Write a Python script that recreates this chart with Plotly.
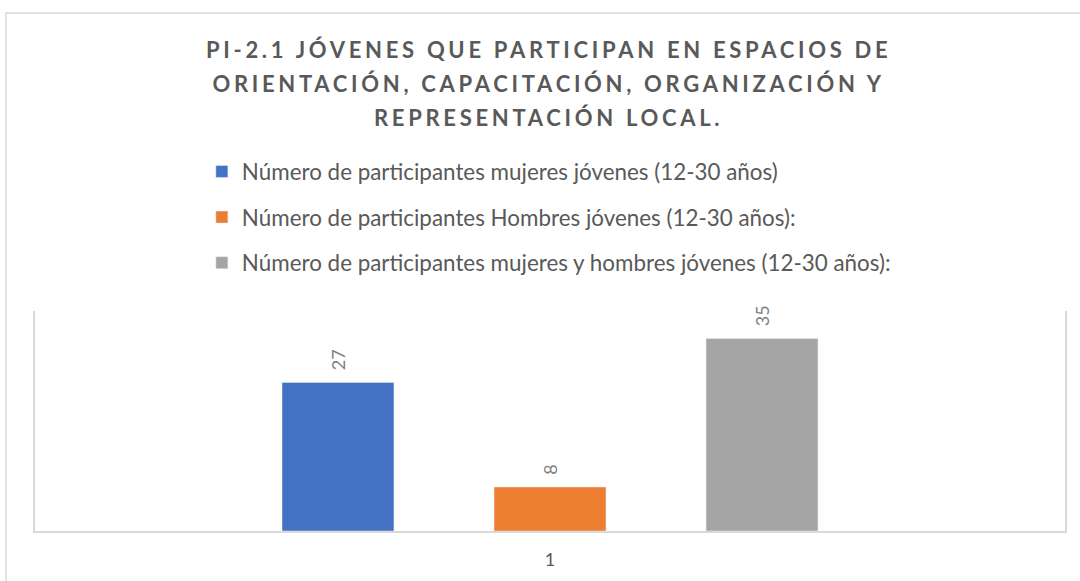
import plotly.graph_objects as go

categories = ["1"]
series_names = [
    "Número de participantes mujeres jóvenes (12-30 años)",
    "Número de participantes Hombres jóvenes (12-30 años):",
    "Número de participantes mujeres y hombres jóvenes (12-30 años):",
]
series_values = [[27], [8], [35]]
series_colors = ["#4472C4", "#ED7D31", "#A5A5A5"]
title_lines = [
    "PI-2.1 JÓVENES QUE PARTICIPAN EN ESPACIOS DE",
    "ORIENTACIÓN, CAPACITACIÓN, ORGANIZACIÓN Y",
    "REPRESENTACIÓN LOCAL.",
]

fig = go.Figure()
for i, (name, vals, col) in enumerate(zip(series_names, series_values, series_colors)):
    fig.add_trace(go.Bar(
        x=categories, y=vals, name=name, marker_color=col,
        text=[str(v) for v in vals], textposition="outside", textangle=-90,
        texttemplate="\u00a0\u00a0%{text}",
        textfont=dict(family="Lato", size=18, color="#7F7F7F"),
        constraintext="none",
        cliponaxis=False, legendgroup=f"g{i}",
    ))

title_text = "<br>".join(
    f'<span style="font-size:22px;letter-spacing:3.7px">{t}</span>' for t in title_lines
)

fig.update_layout(
    width=1080, height=581,
    paper_bgcolor="white", plot_bgcolor="white",
    margin=dict(l=35, r=15, t=311, b=50),
    barmode="group", bargap=0.3825, bargroupgap=0.472,
    title=dict(text=title_text, x=0.508, xanchor="center", y=0.90, yanchor="middle",
               font=dict(family="Lato", size=26, color="#595959", weight="bold")),
    legend=dict(orientation="v", x=0.162, xanchor="left", y=1.73, yanchor="top",
                font=dict(family="Lato", size=22.4, color="#595959"),
                tracegroupgap=13.5, itemwidth=30, bgcolor="rgba(0,0,0,0)"),
    showlegend=True,
    xaxis=dict(showline=True, linecolor="#D9D9D9", linewidth=1.5, ticks="",
               ticklabelstandoff=12,
               tickfont=dict(family="Lato", size=18, color="#595959"), showgrid=False),
    yaxis=dict(range=[0, 40], showline=True, mirror=True, linecolor="#D9D9D9", linewidth=1.5,
               showticklabels=False, showgrid=False, zeroline=False, ticks=""),
    shapes=[dict(type="rect", xref="paper", yref="paper", x0=-0.0282, x1=1.2, y0=-0.6, y1=2.3545,
                 line=dict(color="#D9D9D9", width=1.5), fillcolor="rgba(0,0,0,0)", layer="below")],
)

fig.write_html("out.html", config={"displayModeBar": False},
               post_script="document.body.style.margin='0';")
